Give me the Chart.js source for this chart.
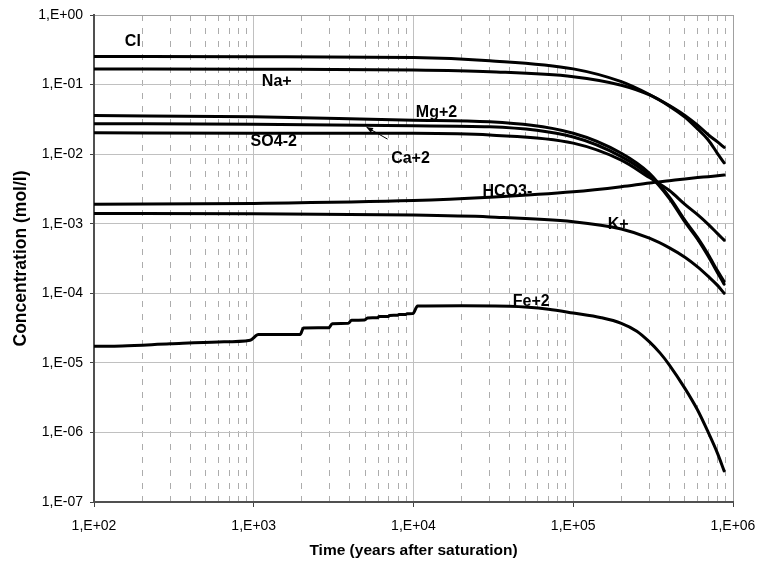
<!DOCTYPE html>
<html>
<head>
<meta charset="utf-8">
<title>Concentration vs time</title>
<script src="https://cdn.jsdelivr.net/npm/chart.js@4.4.1/dist/chart.umd.min.js"></script>
<style>
  html, body { margin: 0; padding: 0; background: #fff; }
  #wrap { width: 760px; height: 563px; }
</style>
</head>
<body>
<div id="wrap"><canvas id="conc-chart" width="760" height="563"></canvas></div>
<script>
// sample times (years after saturation)
var years = [100, 1000, 10000, 30000, 100000, 200000, 300000, 400000, 500000, 600000, 700000, 800000, 880000];

// concentrations (mol/l) at those times
var clConc   = [0.254, 0.251, 0.245, 0.22, 0.168, 0.11, 0.072, 0.05, 0.036, 0.026, 0.019, 0.015, 0.0125];
var naConc   = [0.167, 0.166, 0.162, 0.153, 0.13, 0.098, 0.071, 0.049, 0.034, 0.023, 0.016, 0.0102, 0.0075];
var mgConc   = [0.0358, 0.0344, 0.0308, 0.0292, 0.020, 0.0103, 0.0053, 0.0024, 0.00112, 0.00063, 0.00036, 0.00021, 0.000148];
var caConc   = [0.0274, 0.027, 0.0255, 0.0247, 0.0176, 0.0092, 0.0049, 0.0023, 0.00106, 0.0006, 0.00034, 0.000198, 0.000135];
var so4Conc  = [0.0203, 0.020, 0.0199, 0.0188, 0.0144, 0.0082, 0.0046, 0.0030, 0.0019, 0.00135, 0.00098, 0.00072, 0.00058];
var hco3Conc = [0.0019, 0.00196, 0.00215, 0.0024, 0.00287, 0.0034, 0.00385, 0.00415, 0.0044, 0.0046, 0.00475, 0.0049, 0.005];
var kConc    = [0.0014, 0.00139, 0.00133, 0.00125, 0.00107, 0.00084, 0.00062, 0.00045, 0.00033, 0.00024, 0.000175, 0.00013, 0.0001];

// iron comes out in steps every 1000 years, so it has its own time base
var feYears = [100, 150, 300, 600, 950, 1070, 1950, 2050, 2950, 3100, 3900, 4100, 4950, 5150, 5950, 6100,
               6950, 7100, 7950, 8100, 8950, 9100, 9900, 10600, 20000, 40000, 70000, 100000, 150000, 200000,
               250000, 300000, 350000, 400000, 500000, 600000, 700000, 800000, 880000];
var feConc  = [1.73e-5, 1.75e-5, 1.88e-5, 2.0e-5, 2.12e-5, 2.55e-5, 2.55e-5, 3.17e-5, 3.2e-5, 3.66e-5, 3.7e-5, 4.09e-5,
               4.12e-5, 4.41e-5, 4.45e-5, 4.62e-5, 4.65e-5, 4.8e-5, 4.83e-5, 4.95e-5, 4.97e-5, 5.07e-5, 5.1e-5, 6.55e-5,
               6.6e-5, 6.5e-5, 5.9e-5, 5.2e-5, 4.45e-5, 3.7e-5, 2.85e-5, 2.0e-5, 1.38e-5, 9.3e-6, 4.3e-6, 2.1e-6,
               1.0e-6, 5.0e-7, 2.8e-7];

// axis decades
var xDecades = [1e2, 1e3, 1e4, 1e5, 1e6];
var yDecades = [1e-7, 1e-6, 1e-5, 1e-4, 1e-3, 1e-2, 1e-1, 1];

// curve labels, placed in data coordinates
var labelText  = ['Cl', 'Na+', 'Mg+2', 'SO4-2', 'Ca+2', 'HCO3-', 'K+', 'Fe+2'];
var labelYears = [175, 1393, 13930, 1334, 9575, 38700, 191000, 54630];
var labelConc  = [0.409, 0.112, 0.0402, 0.01538, 0.00876, 0.00294, 0.000984, 7.67e-5];
// pointer from the Ca+2 label to its curve: [years, conc] start and tip
var caPointer = [[6880, 0.01644], [5080, 0.02445]];

var FONT = '"Liberation Sans", Arial, sans-serif';

function toSeries(t, c) {
  return t.map(function (v, i) { return {x: v, y: c[i]}; });
}

function sci(v) {
  var e = Math.round(Math.log10(v));
  var s = e < 0 ? '-' : '+';
  var a = Math.abs(e);
  return '1,E' + s + (a < 10 ? '0' + a : a);
}

function isDecade(v) {
  var l = Math.log10(v);
  return Math.abs(l - Math.round(l)) < 1e-9;
}

// full log grid for the time axis: 1..9 inside every decade
var xGrid = [];
xDecades.forEach(function (d, i) {
  if (i === xDecades.length - 1) { xGrid.push(d); return; }
  for (var m = 1; m <= 9; m++) xGrid.push(m * d);
});

function line(label, t, c) {
  return {
    label: label,
    data: toSeries(t, c),
    showLine: true,
    borderColor: '#000',
    backgroundColor: '#000',
    borderWidth: 3,
    pointRadius: 0,
    pointHoverRadius: 0,
    borderCapStyle: 'round',
    borderJoinStyle: 'round',
    cubicInterpolationMode: 'monotone'
  };
}

var seriesLabels = {
  id: 'seriesLabels',
  afterDatasetsDraw: function (chart) {
    var ctx = chart.ctx, xs = chart.scales.x, ys = chart.scales.y;
    ctx.save();
    ctx.font = 'bold 16px ' + FONT;
    ctx.fillStyle = '#000';
    ctx.textAlign = 'center';
    ctx.textBaseline = 'middle';
    labelText.forEach(function (txt, i) {
      ctx.fillText(txt, xs.getPixelForValue(labelYears[i]), ys.getPixelForValue(labelConc[i]));
    });

    var x1 = xs.getPixelForValue(caPointer[0][0]), y1 = ys.getPixelForValue(caPointer[0][1]);
    var x2 = xs.getPixelForValue(caPointer[1][0]), y2 = ys.getPixelForValue(caPointer[1][1]);
    var ang = Math.atan2(y2 - y1, x2 - x1);
    ctx.strokeStyle = '#000';
    ctx.lineWidth = 1;
    ctx.beginPath();
    ctx.moveTo(x1, y1);
    ctx.lineTo(x2, y2);
    ctx.stroke();
    ctx.beginPath();
    ctx.moveTo(x2, y2);
    ctx.lineTo(x2 - 7 * Math.cos(ang - 0.4), y2 - 7 * Math.sin(ang - 0.4));
    ctx.lineTo(x2 - 7 * Math.cos(ang + 0.4), y2 - 7 * Math.sin(ang + 0.4));
    ctx.closePath();
    ctx.fill();
    ctx.restore();
  }
};

Chart.defaults.font.family = FONT;
Chart.defaults.color = '#000';

var chart = new Chart(document.getElementById('conc-chart'), {
  type: 'scatter',
  data: {
    datasets: [
      line('Cl', years, clConc),
      line('Na+', years, naConc),
      line('Mg+2', years, mgConc),
      line('Ca+2', years, caConc),
      line('SO4-2', years, so4Conc),
      line('HCO3-', years, hco3Conc),
      line('K+', years, kConc),
      line('Fe+2', feYears, feConc)
    ]
  },
  options: {
    responsive: false,
    animation: false,
    events: [],
    layout: { padding: { left: 0, top: 15, right: 27, bottom: 0 } },
    plugins: {
      legend: { display: false },
      tooltip: { enabled: false }
    },
    scales: {
      x: {
        type: 'logarithmic',
        position: 'bottom',
        min: 100,
        max: 1e6,
        afterBuildTicks: function (scale) {
          scale.ticks = xGrid.map(function (v) { return {value: v}; });
        },
        afterFit: function (scale) {
          scale.height = 61;
          scale.paddingLeft = 0;
          scale.paddingRight = 0;
        },
        ticks: {
          autoSkip: false,
          maxRotation: 0,
          padding: 11,
          font: { size: 14 },
          color: '#000',
          callback: function (v) { return isDecade(v) ? sci(v) : ''; }
        },
        grid: {
          color: function (c) {
            if (!c.tick) return '#c0c0c0';
            if (c.tick.value === 1e6) return '#a0a0a0';
            return isDecade(c.tick.value) ? '#c0c0c0' : '#acacac';
          },
          lineWidth: 1,
          tickLength: 5,
          tickColor: function (c) { return c.tick && isDecade(c.tick.value) ? '#404040' : 'rgba(0,0,0,0)'; }
        },
        border: {
          display: true,
          color: '#505050',
          width: 2,
          dash: function (c) { return c.tick && !isDecade(c.tick.value) ? [6, 7] : []; }
        },
        title: {
          display: true,
          text: 'Time (years after saturation)',
          font: { size: 15.5, weight: 'bold' },
          color: '#000',
          padding: { top: 0, bottom: 3 }
        }
      },
      y: {
        type: 'logarithmic',
        position: 'left',
        min: 1e-7,
        max: 1,
        afterBuildTicks: function (scale) {
          scale.ticks = yDecades.map(function (v) { return {value: v}; });
        },
        afterFit: function (scale) {
          scale.width = 94;
          scale.paddingTop = 0;
          scale.paddingBottom = 0;
        },
        ticks: {
          autoSkip: false,
          padding: 7,
          font: { size: 14 },
          color: '#000',
          callback: function (v) { return sci(v); }
        },
        grid: {
          color: function (c) { return c.tick && c.tick.value === 1 ? '#a0a0a0' : '#c0c0c0'; },
          lineWidth: 1,
          tickLength: 4,
          tickColor: '#404040'
        },
        border: { display: true, color: '#505050', width: 2 },
        title: {
          display: true,
          text: 'Concentration (mol/l)',
          font: { size: 17.5, weight: 'bold' },
          color: '#000',
          padding: { top: 11, bottom: 0 }
        }
      }
    }
  },
  plugins: [seriesLabels]
});
</script>
</body>
</html>
